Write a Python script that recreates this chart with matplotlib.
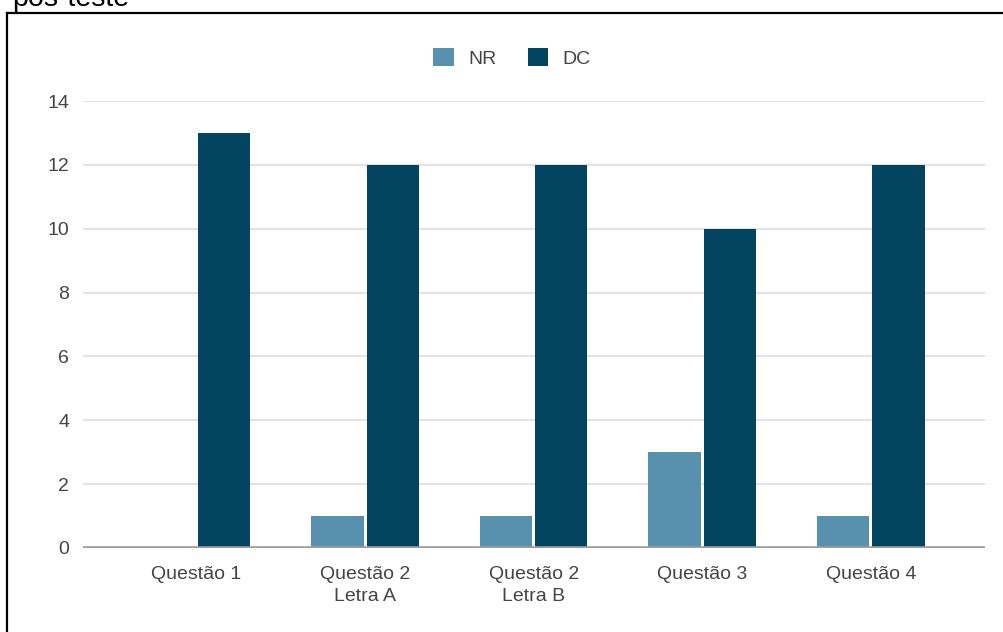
import matplotlib
matplotlib.use("Agg")
import matplotlib.pyplot as plt
from matplotlib.lines import Line2D
from matplotlib.patches import Patch
import numpy as np

plt.rcParams['font.family'] = ['Liberation Sans', 'DejaVu Sans']

categories = ["Questão 1", "Questão 2\nLetra A", "Questão 2\nLetra B", "Questão 3", "Questão 4"]
nr_values = [0, 1, 1, 3, 1]
dc_values = [13, 12, 12, 10, 12]
series_names = ["NR", "DC"]
y_ticks = [0, 2, 4, 6, 8, 10, 12, 14]
title_text = "pós-teste"

nr_color = "#5891ae"
dc_color = "#034560"
text_color = "#444444"

W, H = 1004, 632
fig = plt.figure(figsize=(W / 100, H / 100), dpi=100)
fig.patch.set_facecolor("white")

ax = fig.add_axes([83 / W, 1 - 548 / H, (985 - 83) / W, (548 - 101) / H])

x = np.arange(len(categories))
bw = 0.31
off = 0.164
ax.bar(x - off, nr_values, width=bw, color=nr_color, zorder=3)
ax.bar(x + off, dc_values, width=bw, color=dc_color, zorder=3)

ax.set_xlim(-0.673, 4.677)
ax.set_ylim(0, 14)
ax.set_yticks(y_ticks)
ax.set_yticklabels([str(t) for t in y_ticks])
ax.set_xticks(x)
ax.set_xticklabels(categories, linespacing=1.35)

ax.grid(axis='y', color="#e3e3e3", linewidth=1.5, zorder=0)
ax.axhline(0, color="#9e9e9e", linewidth=2.6, zorder=4)
for s in ax.spines.values():
    s.set_visible(False)
ax.tick_params(axis='both', length=0, labelsize=14, colors=text_color)
ax.tick_params(axis='y', pad=10)
ax.tick_params(axis='x', pad=13)

handles = [Patch(facecolor=nr_color, edgecolor='none'), Patch(facecolor=dc_color, edgecolor='none')]
fig.legend(handles, series_names, loc='center', bbox_to_anchor=(512 / W, 1 - 58 / H),
           ncol=2, frameon=False, fontsize=14, handlelength=1.05, handleheight=1.05,
           handletextpad=0.75, columnspacing=1.6, labelcolor=text_color)

# frame lines along the top and left edges
fig.add_artist(Line2D([7.5 / W, 1.0], [1 - 13 / H, 1 - 13 / H], transform=fig.transFigure,
                      color="black", linewidth=1.6))
fig.add_artist(Line2D([7.5 / W, 7.5 / W], [0, 1 - 13 / H], transform=fig.transFigure,
                      color="black", linewidth=1.6))

fig.text(12 / W, 1 - 5.5 / H, title_text, fontsize=20.5, color="black",
         ha='left', va='baseline')

fig.savefig("out.png", dpi=100, facecolor="white")
